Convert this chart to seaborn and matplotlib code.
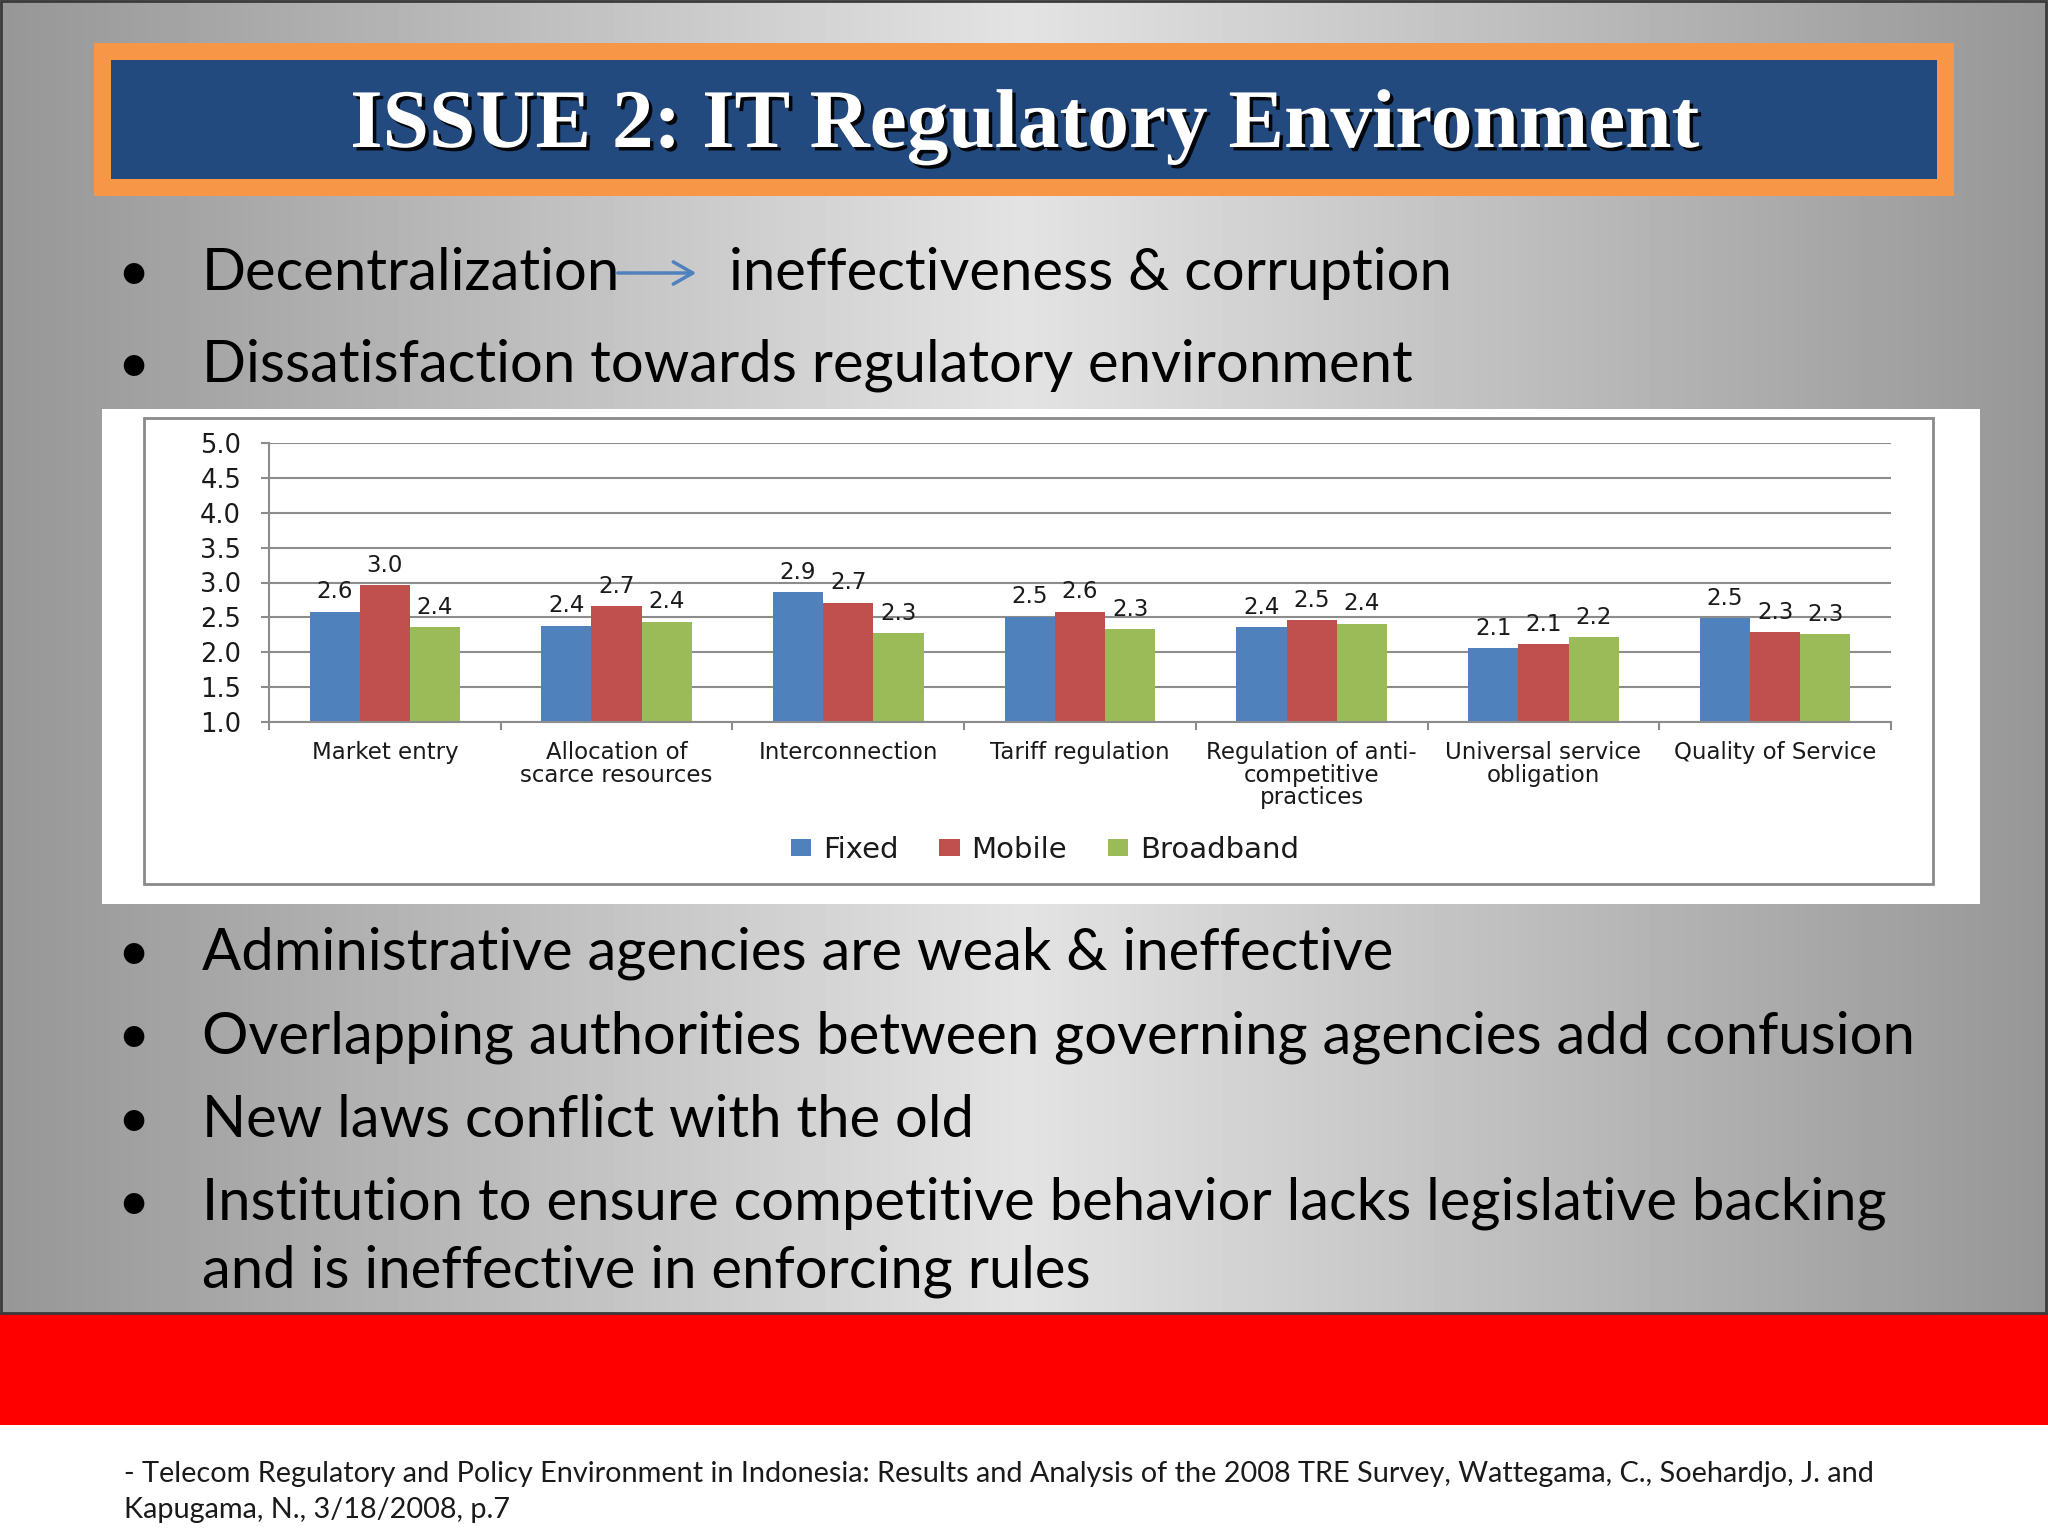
import numpy as np
import pandas as pd
import matplotlib
matplotlib.use("Agg")
import matplotlib.pyplot as plt
import matplotlib.patheffects as pe
from matplotlib.patches import Rectangle
import seaborn as sns

# ---------------- data ----------------
categories = ["Market entry", "Allocation of\nscarce resources", "Interconnection",
              "Tariff regulation", "Regulation of anti-\ncompetitive\npractices",
              "Universal service\nobligation", "Quality of Service"]
series = ["Fixed", "Mobile", "Broadband"]
fixed = [2.58, 2.38, 2.86, 2.51, 2.36, 2.06, 2.49]
mobile = [2.96, 2.66, 2.71, 2.58, 2.46, 2.12, 2.29]
broadband = [2.36, 2.44, 2.27, 2.33, 2.41, 2.22, 2.26]
yticks = [1.0, 1.5, 2.0, 2.5, 3.0, 3.5, 4.0, 4.5, 5.0]
colors = ["#4F81BD", "#C0504D", "#9BBB59"]

title = "ISSUE 2: IT Regulatory Environment"
bullets_top = ["Dissatisfaction towards regulatory environment"]
bullet_first_left = "Decentralization"
bullet_first_right = "ineffectiveness & corruption"
bullets_bottom = ["Administrative agencies are weak & ineffective",
                  "Overlapping authorities between governing agencies add confusion",
                  "New laws conflict with the old",
                  "Institution to ensure competitive behavior lacks legislative backing"]
bullet_cont = "and is ineffective in enforcing rules"
footer = ["- Telecom Regulatory and Policy Environment in Indonesia: Results and Analysis of the 2008 TRE Survey, Wattegama, C., Soehardjo, J. and",
          "Kapugama, N., 3/18/2008, p.7"]

# ---------------- figure ----------------
W, H = 2048, 1536
fig = plt.figure(figsize=(W / 100, H / 100), dpi=100)
bg = fig.add_axes([0, 0, 1, 1])
bg.set_xlim(0, W)
bg.set_ylim(H, 0)
bg.axis("off")

# background gradient
xs = np.linspace(0, 1, 600)
c = 0.89 - 0.30 * np.abs(xs - 0.5) * 2
bg.imshow(np.tile(c, (2, 1)), cmap="gray", vmin=0, vmax=1,
          extent=[0, W, 1313, 0], aspect="auto", zorder=0)
bg.add_patch(Rectangle((0, 1313), W, 112, fc="#FF0000", ec="none", zorder=1))
bg.add_patch(Rectangle((0, 1425), W, 111, fc="white", ec="none", zorder=1))
bg.add_patch(Rectangle((1, 1), W - 3, 1312, fill=False, ec="#3a3a3a", lw=2, zorder=2))

# title box
bg.add_patch(Rectangle((94, 43), 1860, 153, fc="#F79646", ec="none", zorder=2))
bg.add_patch(Rectangle((111, 60), 1826, 119, fc="#234A7E", ec="none", zorder=3))
bg.text(1025, 147, title, ha="center", va="baseline", fontsize=60,
        fontweight="bold", family="Liberation Serif", color="white", zorder=4,
        path_effects=[pe.withSimplePatchShadow(offset=(2.5, -2.5),
                                               shadow_rgbFace="black", alpha=0.9)])

# bullets
fs_b = 41.8
def bullet(y):
    bg.text(133, y, "\u2022", ha="center", va="baseline", fontsize=40,
            family="Lato", color="black", zorder=4)

bullet(290)
bg.text(202, 290, bullet_first_left, ha="left", va="baseline", fontsize=fs_b,
        family="Lato", color="black", zorder=4)
bg.annotate("", xy=(699, 273), xytext=(615, 273),
            arrowprops=dict(arrowstyle="->,head_length=1.4,head_width=0.8",
                            color="#4F81BD", lw=2.5), zorder=4)
bg.text(729, 290, bullet_first_right, ha="left", va="baseline", fontsize=fs_b,
        family="Lato", color="black", zorder=4)
bullet(382)
bg.text(202, 382, bullets_top[0], ha="left", va="baseline", fontsize=fs_b,
        family="Lato", color="black", zorder=4)
for y, t in zip([970, 1053, 1137, 1220], bullets_bottom):
    bullet(y)
    bg.text(202, y, t, ha="left", va="baseline", fontsize=fs_b,
            family="Lato", color="black", zorder=4)
bg.text(202, 1287, bullet_cont, ha="left", va="baseline", fontsize=fs_b,
        family="Lato", color="black", zorder=4)

# footer
for y, t in zip([1482, 1518], footer):
    bg.text(124, y, t, ha="left", va="baseline", fontsize=20.8,
            family="Lato", color="#1a1a1a", zorder=4)

# chart panel
bg.add_patch(Rectangle((102, 409), 1878, 495, fc="white", ec="none", zorder=2))
bg.add_patch(Rectangle((144, 418), 1789, 466, fill=False, ec="#8a8a8a", lw=2, zorder=3))

# ---------------- chart ----------------
ax = fig.add_axes([269 / W, 1 - 722 / H, 1622 / W, 279 / H])
ax.set_facecolor("none")
df = pd.DataFrame({"category": categories * 3,
                   "series": np.repeat(series, len(categories)),
                   "value": fixed + mobile + broadband})
sns.barplot(data=df, x="category", y="value", hue="series", palette=colors,
            width=0.65, saturation=1, ax=ax, edgecolor="none", legend=True)
ax.set_ylim(1, 5)
ax.set_xlim(-0.5, len(categories) - 0.5)
ax.set_yticks(yticks)
ax.set_yticklabels([f"{v:.1f}" for v in yticks])
ax.yaxis.grid(True, color="#8c8c8c", lw=1.5)
ax.set_axisbelow(True)
for s in ["top", "right"]:
    ax.spines[s].set_visible(False)
for s in ["left", "bottom"]:
    ax.spines[s].set_color("#8c8c8c")
    ax.spines[s].set_linewidth(1.5)
ax.set_xticks(np.arange(-0.5, len(categories), 1), minor=True)
ax.tick_params(axis="x", which="major", length=0, pad=14, labelsize=16.5,
               labelcolor="#1a1a1a")
ax.tick_params(axis="x", which="minor", length=6, color="#8c8c8c", width=1.5)
ax.tick_params(axis="y", length=6, color="#8c8c8c", width=1.5, pad=14,
               labelsize=18.5, labelcolor="#1a1a1a")
for lab in ax.get_xticklabels():
    lab.set_linespacing(0.95)
ax.set_xlabel("")
ax.set_ylabel("")

for cont, vals in zip(ax.containers, [fixed, mobile, broadband]):
    ax.bar_label(cont, labels=[f"{v:.1f}" for v in vals], padding=6,
                 fontsize=16.5, color="#1a1a1a")

sns.move_legend(ax, "center", bbox_to_anchor=(1045 / W, 1 - 850 / H),
                bbox_transform=fig.transFigure, ncol=3, frameon=False,
                title=None, fontsize=21, handlelength=0.7, handleheight=0.55,
                handletextpad=0.4, columnspacing=1.4)
for t in ax.get_legend().get_texts():
    t.set_color("#1a1a1a")

fig.savefig("out.png", dpi=100)
